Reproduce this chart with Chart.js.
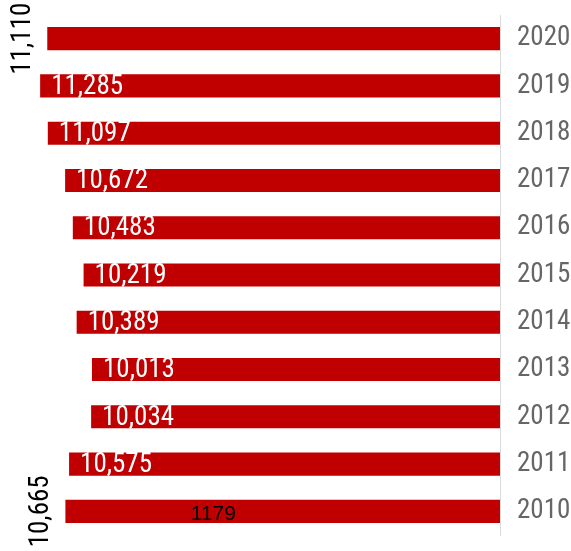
<!DOCTYPE html>
<html>
<head>
<meta charset="utf-8">
<script src="https://cdn.jsdelivr.net/npm/chart.js@4/dist/chart.umd.min.js"></script>
<style>
    html, body { margin: 0; padding: 0; background: #fff; }
    #wrap { width: 571px; height: 551px; position: relative; }
</style>
</head>
<body>
<div id="wrap"><canvas id="yearChart"></canvas></div>
<script>
const years = ['2020', '2019', '2018', '2017', '2016', '2015', '2014', '2013', '2012', '2011', '2010'];
const totals = [11110, 11285, 11097, 10672, 10483, 10219, 10389, 10013, 10034, 10575, 10665];
// years whose value is written sideways outside the bar
const outsideYears = ['2020', '2010'];
// extra note printed inside one bar
const noteYears = ['2010'];
const noteTexts = ['1179'];

const barRed = '#c00000';
const narrowFont = "'Liberation Sans Narrow', 'Arial Narrow', 'Roboto Condensed', 'DejaVu Sans Condensed', sans-serif";

const fmt = v => v.toLocaleString('en-US');

// Value labels: white inside the bar, black rotated ones outside
const valueLabels = {
    id: 'valueLabels',
    afterDatasetsDraw(chart) {
        const ctx = chart.ctx;
        const bars = chart.getDatasetMeta(0).data;
        ctx.save();
        bars.forEach((bar, i) => {
            const year = years[i];
            const text = fmt(totals[i]);
            if (outsideYears.includes(year)) {
                ctx.save();
                ctx.translate(bar.x - 24, bar.y);
                ctx.rotate(-Math.PI / 2);
                ctx.fillStyle = '#000';
                ctx.font = '27px ' + narrowFont;
                ctx.textAlign = 'center';
                ctx.textBaseline = 'middle';
                ctx.fillText(text, 0, 0);
                ctx.restore();
            } else {
                ctx.fillStyle = '#fff';
                ctx.font = '27px ' + narrowFont;
                ctx.textAlign = 'left';
                ctx.textBaseline = 'middle';
                ctx.fillText(text, bar.x + 11, bar.y + 1);
            }
            const n = noteYears.indexOf(year);
            if (n >= 0) {
                ctx.fillStyle = '#000';
                ctx.font = "21px 'Liberation Sans', Arial, sans-serif";
                ctx.textAlign = 'center';
                ctx.textBaseline = 'middle';
                ctx.fillText(noteTexts[n], bar.x + 148, bar.y + 3);
            }
        });
        ctx.restore();
    }
};

new Chart(document.getElementById('yearChart'), {
    type: 'bar',
    data: {
        labels: years,
        datasets: [{
            data: totals,
            backgroundColor: barRed,
            borderWidth: 0,
            barPercentage: 0.8,
            categoryPercentage: 0.61
        }]
    },
    options: {
        indexAxis: 'y',
        responsive: true,
        maintainAspectRatio: false,
        animation: false,
        layout: { padding: { left: 11, top: 15, bottom: 16, right: 0 } },
        plugins: {
            legend: { display: false },
            tooltip: { enabled: false }
        },
        scales: {
            x: {
                display: false,
                reverse: true,
                min: 0,
                max: 12000
            },
            y: {
                position: 'right',
                grid: { display: false, drawTicks: false },
                border: { display: true, color: '#d9d9d9', width: 1 },
                ticks: {
                    color: '#666666',
                    padding: 17,
                    font: { size: 27, family: narrowFont }
                },
                afterFit(scale) {
                    scale.width = 71;
                    scale.paddingTop = 0;
                    scale.paddingBottom = 0;
                }
            }
        }
    },
    plugins: [valueLabels]
});
</script>
</body>
</html>
